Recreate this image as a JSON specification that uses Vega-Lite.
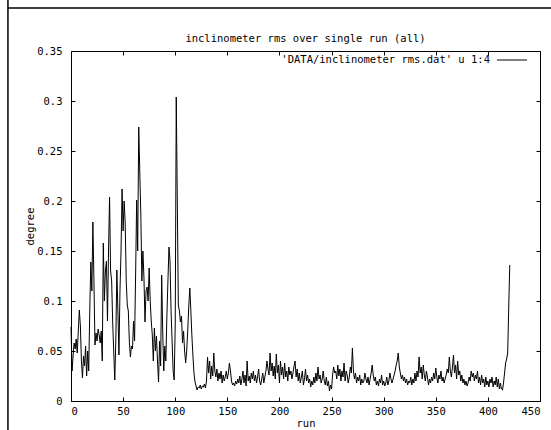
{
"$schema": "https://vega.github.io/schema/vega-lite/v6.json",
"width": 469, "height": 350,
"autosize": "none",
"padding": {"left": 71, "top": 51, "right": 11, "bottom": 29},
"background": "white",
"config": {
  "view": {"stroke": "black", "strokeWidth": 1},
  "font": "DejaVu Sans Mono",
  "axis": {"grid": false, "domain": false, "tickColor": "black", "tickSize": -4, "tickWidth": 1, "labelColor": "black", "labelFont": "DejaVu Sans Mono", "labelFontSize": 10.5, "titleFont": "DejaVu Sans Mono", "titleFontSize": 10.5, "titleFontWeight": "normal", "titleColor": "black"}
},
"title": {"text": "inclinometer rms over single run (all)", "font": "DejaVu Sans Mono", "fontSize": 10.5, "fontWeight": "normal", "color": "black", "baseline": "middle", "offset": -50},
"data": {"values": [
{"r":0,"v":0.074},{"r":1,"v":0.030},{"r":2,"v":0.045},{"r":3,"v":0.058},{"r":4,"v":0.052},{"r":5,"v":0.062},{"r":6,"v":0.048},{"r":7,"v":0.070},{"r":8,"v":0.091},{"r":9,"v":0.075},
{"r":10,"v":0.040},{"r":11,"v":0.023},{"r":12,"v":0.045},{"r":13,"v":0.035},{"r":14,"v":0.055},{"r":15,"v":0.025},{"r":16,"v":0.050},{"r":17,"v":0.030},{"r":18,"v":0.090},{"r":19,"v":0.139},
{"r":20,"v":0.110},{"r":21,"v":0.179},{"r":22,"v":0.120},{"r":23,"v":0.056},{"r":24,"v":0.068},{"r":25,"v":0.060},{"r":26,"v":0.072},{"r":27,"v":0.066},{"r":28,"v":0.058},{"r":29,"v":0.070},
{"r":30,"v":0.040},{"r":31,"v":0.158},{"r":32,"v":0.100},{"r":33,"v":0.130},{"r":34,"v":0.140},{"r":35,"v":0.080},{"r":36,"v":0.150},{"r":37,"v":0.204},{"r":38,"v":0.130},{"r":39,"v":0.120},
{"r":40,"v":0.078},{"r":41,"v":0.050},{"r":42,"v":0.021},{"r":43,"v":0.060},{"r":44,"v":0.131},{"r":45,"v":0.090},{"r":46,"v":0.046},{"r":47,"v":0.110},{"r":48,"v":0.150},{"r":49,"v":0.212},
{"r":50,"v":0.170},{"r":51,"v":0.200},{"r":52,"v":0.178},{"r":53,"v":0.120},{"r":54,"v":0.096},{"r":55,"v":0.090},{"r":56,"v":0.059},{"r":57,"v":0.044},{"r":58,"v":0.055},{"r":59,"v":0.052},
{"r":60,"v":0.080},{"r":61,"v":0.060},{"r":62,"v":0.126},{"r":63,"v":0.201},{"r":64,"v":0.150},{"r":65,"v":0.274},{"r":66,"v":0.229},{"r":67,"v":0.186},{"r":68,"v":0.120},{"r":69,"v":0.150},
{"r":70,"v":0.123},{"r":71,"v":0.079},{"r":72,"v":0.110},{"r":73,"v":0.114},{"r":74,"v":0.100},{"r":75,"v":0.133},{"r":76,"v":0.100},{"r":77,"v":0.080},{"r":78,"v":0.066},{"r":79,"v":0.040},
{"r":80,"v":0.073},{"r":81,"v":0.050},{"r":82,"v":0.065},{"r":83,"v":0.040},{"r":84,"v":0.019},{"r":85,"v":0.060},{"r":86,"v":0.035},{"r":87,"v":0.126},{"r":88,"v":0.070},{"r":89,"v":0.030},
{"r":90,"v":0.055},{"r":91,"v":0.040},{"r":92,"v":0.085},{"r":93,"v":0.120},{"r":94,"v":0.154},{"r":95,"v":0.140},{"r":96,"v":0.090},{"r":97,"v":0.060},{"r":98,"v":0.030},{"r":99,"v":0.021},
{"r":100,"v":0.076},{"r":101,"v":0.304},{"r":102,"v":0.200},{"r":103,"v":0.096},{"r":104,"v":0.090},{"r":105,"v":0.079},{"r":106,"v":0.085},{"r":107,"v":0.058},{"r":108,"v":0.070},{"r":109,"v":0.050},
{"r":110,"v":0.038},{"r":111,"v":0.050},{"r":112,"v":0.070},{"r":113,"v":0.095},{"r":114,"v":0.113},{"r":115,"v":0.090},{"r":116,"v":0.065},{"r":117,"v":0.045},{"r":118,"v":0.028},{"r":119,"v":0.019},
{"r":120,"v":0.015},{"r":121,"v":0.011},{"r":122,"v":0.014},{"r":123,"v":0.013},{"r":124,"v":0.016},{"r":125,"v":0.012},{"r":126,"v":0.015},{"r":127,"v":0.014},{"r":128,"v":0.017},{"r":129,"v":0.013},
{"r":130,"v":0.020},{"r":131,"v":0.044},{"r":132,"v":0.028},{"r":133,"v":0.040},{"r":134,"v":0.022},{"r":135,"v":0.035},{"r":136,"v":0.025},{"r":137,"v":0.048},{"r":138,"v":0.030},{"r":139,"v":0.024},
{"r":140,"v":0.032},{"r":141,"v":0.020},{"r":142,"v":0.028},{"r":143,"v":0.022},{"r":144,"v":0.030},{"r":145,"v":0.018},{"r":146,"v":0.026},{"r":147,"v":0.020},{"r":148,"v":0.024},{"r":149,"v":0.030},
{"r":150,"v":0.022},{"r":151,"v":0.028},{"r":152,"v":0.038},{"r":153,"v":0.030},{"r":154,"v":0.020},{"r":155,"v":0.016},{"r":156,"v":0.018},{"r":157,"v":0.015},{"r":158,"v":0.020},{"r":159,"v":0.017},
{"r":160,"v":0.022},{"r":161,"v":0.018},{"r":162,"v":0.025},{"r":163,"v":0.016},{"r":164,"v":0.022},{"r":165,"v":0.030},{"r":166,"v":0.018},{"r":167,"v":0.026},{"r":168,"v":0.015},{"r":169,"v":0.040},
{"r":170,"v":0.020},{"r":171,"v":0.025},{"r":172,"v":0.018},{"r":173,"v":0.028},{"r":174,"v":0.022},{"r":175,"v":0.030},{"r":176,"v":0.020},{"r":177,"v":0.026},{"r":178,"v":0.018},{"r":179,"v":0.024},
{"r":180,"v":0.032},{"r":181,"v":0.020},{"r":182,"v":0.016},{"r":183,"v":0.022},{"r":184,"v":0.028},{"r":185,"v":0.018},{"r":186,"v":0.024},{"r":187,"v":0.030},{"r":188,"v":0.040},{"r":189,"v":0.032},
{"r":190,"v":0.026},{"r":191,"v":0.048},{"r":192,"v":0.030},{"r":193,"v":0.038},{"r":194,"v":0.025},{"r":195,"v":0.035},{"r":196,"v":0.022},{"r":197,"v":0.047},{"r":198,"v":0.028},{"r":199,"v":0.036},
{"r":200,"v":0.018},{"r":201,"v":0.040},{"r":202,"v":0.026},{"r":203,"v":0.034},{"r":204,"v":0.022},{"r":205,"v":0.038},{"r":206,"v":0.024},{"r":207,"v":0.030},{"r":208,"v":0.020},{"r":209,"v":0.034},
{"r":210,"v":0.026},{"r":211,"v":0.030},{"r":212,"v":0.022},{"r":213,"v":0.028},{"r":214,"v":0.035},{"r":215,"v":0.040},{"r":216,"v":0.024},{"r":217,"v":0.032},{"r":218,"v":0.020},{"r":219,"v":0.028},
{"r":220,"v":0.018},{"r":221,"v":0.024},{"r":222,"v":0.030},{"r":223,"v":0.016},{"r":224,"v":0.022},{"r":225,"v":0.032},{"r":226,"v":0.020},{"r":227,"v":0.026},{"r":228,"v":0.018},{"r":229,"v":0.022},
{"r":230,"v":0.014},{"r":231,"v":0.020},{"r":232,"v":0.016},{"r":233,"v":0.024},{"r":234,"v":0.018},{"r":235,"v":0.028},{"r":236,"v":0.020},{"r":237,"v":0.034},{"r":238,"v":0.022},{"r":239,"v":0.026},
{"r":240,"v":0.018},{"r":241,"v":0.022},{"r":242,"v":0.030},{"r":243,"v":0.020},{"r":244,"v":0.016},{"r":245,"v":0.024},{"r":246,"v":0.015},{"r":247,"v":0.020},{"r":248,"v":0.010},{"r":249,"v":0.016},
{"r":250,"v":0.012},{"r":251,"v":0.026},{"r":252,"v":0.034},{"r":253,"v":0.028},{"r":254,"v":0.030},{"r":255,"v":0.022},{"r":256,"v":0.036},{"r":257,"v":0.025},{"r":258,"v":0.032},{"r":259,"v":0.020},
{"r":260,"v":0.030},{"r":261,"v":0.024},{"r":262,"v":0.038},{"r":263,"v":0.020},{"r":264,"v":0.030},{"r":265,"v":0.026},{"r":266,"v":0.018},{"r":267,"v":0.024},{"r":268,"v":0.034},{"r":269,"v":0.028},
{"r":270,"v":0.053},{"r":271,"v":0.030},{"r":272,"v":0.022},{"r":273,"v":0.028},{"r":274,"v":0.018},{"r":275,"v":0.024},{"r":276,"v":0.020},{"r":277,"v":0.026},{"r":278,"v":0.016},{"r":279,"v":0.022},
{"r":280,"v":0.018},{"r":281,"v":0.020},{"r":282,"v":0.028},{"r":283,"v":0.022},{"r":284,"v":0.018},{"r":285,"v":0.024},{"r":286,"v":0.016},{"r":287,"v":0.022},{"r":288,"v":0.028},{"r":289,"v":0.036},
{"r":290,"v":0.026},{"r":291,"v":0.020},{"r":292,"v":0.024},{"r":293,"v":0.016},{"r":294,"v":0.020},{"r":295,"v":0.015},{"r":296,"v":0.022},{"r":297,"v":0.018},{"r":298,"v":0.026},{"r":299,"v":0.016},
{"r":300,"v":0.020},{"r":301,"v":0.015},{"r":302,"v":0.018},{"r":303,"v":0.024},{"r":304,"v":0.016},{"r":305,"v":0.020},{"r":306,"v":0.028},{"r":307,"v":0.022},{"r":308,"v":0.018},{"r":309,"v":0.022},
{"r":310,"v":0.026},{"r":311,"v":0.030},{"r":312,"v":0.036},{"r":313,"v":0.040},{"r":314,"v":0.048},{"r":315,"v":0.034},{"r":316,"v":0.028},{"r":317,"v":0.022},{"r":318,"v":0.026},{"r":319,"v":0.020},
{"r":320,"v":0.024},{"r":321,"v":0.018},{"r":322,"v":0.022},{"r":323,"v":0.016},{"r":324,"v":0.020},{"r":325,"v":0.018},{"r":326,"v":0.024},{"r":327,"v":0.016},{"r":328,"v":0.022},{"r":329,"v":0.018},
{"r":330,"v":0.028},{"r":331,"v":0.020},{"r":332,"v":0.030},{"r":333,"v":0.024},{"r":334,"v":0.044},{"r":335,"v":0.028},{"r":336,"v":0.034},{"r":337,"v":0.022},{"r":338,"v":0.036},{"r":339,"v":0.026},
{"r":340,"v":0.020},{"r":341,"v":0.030},{"r":342,"v":0.024},{"r":343,"v":0.016},{"r":344,"v":0.022},{"r":345,"v":0.018},{"r":346,"v":0.024},{"r":347,"v":0.020},{"r":348,"v":0.028},{"r":349,"v":0.022},
{"r":350,"v":0.033},{"r":351,"v":0.024},{"r":352,"v":0.018},{"r":353,"v":0.026},{"r":354,"v":0.022},{"r":355,"v":0.030},{"r":356,"v":0.020},{"r":357,"v":0.024},{"r":358,"v":0.018},{"r":359,"v":0.022},
{"r":360,"v":0.026},{"r":361,"v":0.032},{"r":362,"v":0.028},{"r":363,"v":0.044},{"r":364,"v":0.030},{"r":365,"v":0.024},{"r":366,"v":0.034},{"r":367,"v":0.046},{"r":368,"v":0.028},{"r":369,"v":0.036},
{"r":370,"v":0.022},{"r":371,"v":0.040},{"r":372,"v":0.026},{"r":373,"v":0.030},{"r":374,"v":0.020},{"r":375,"v":0.026},{"r":376,"v":0.018},{"r":377,"v":0.022},{"r":378,"v":0.016},{"r":379,"v":0.020},
{"r":380,"v":0.015},{"r":381,"v":0.018},{"r":382,"v":0.024},{"r":383,"v":0.020},{"r":384,"v":0.030},{"r":385,"v":0.024},{"r":386,"v":0.028},{"r":387,"v":0.020},{"r":388,"v":0.026},{"r":389,"v":0.022},
{"r":390,"v":0.030},{"r":391,"v":0.018},{"r":392,"v":0.024},{"r":393,"v":0.016},{"r":394,"v":0.026},{"r":395,"v":0.018},{"r":396,"v":0.022},{"r":397,"v":0.014},{"r":398,"v":0.024},{"r":399,"v":0.016},
{"r":400,"v":0.020},{"r":401,"v":0.014},{"r":402,"v":0.022},{"r":403,"v":0.018},{"r":404,"v":0.024},{"r":405,"v":0.014},{"r":406,"v":0.020},{"r":407,"v":0.016},{"r":408,"v":0.024},{"r":409,"v":0.014},
{"r":410,"v":0.022},{"r":411,"v":0.012},{"r":412,"v":0.018},{"r":413,"v":0.012},{"r":414,"v":0.011},{"r":415,"v":0.018},{"r":416,"v":0.028},{"r":417,"v":0.038},{"r":418,"v":0.042},{"r":419,"v":0.048},
{"r":420,"v":0.094},{"r":421,"v":0.136}
]},
"resolve": {"axis": {"x": "independent", "y": "independent"}},
"layer": [
  {
    "mark": {"type": "line", "color": "black", "strokeWidth": 1},
    "encoding": {
      "x": {"field": "r", "type": "quantitative", "scale": {"domain": [0, 450], "nice": false, "zero": false},
            "axis": {"orient": "bottom", "values": [0,50,100,150,200,250,300,350,400,450], "format": "d", "labelPadding": 9, "title": "run", "titleY": 22, "titleBaseline": "middle"}},
      "y": {"field": "v", "type": "quantitative", "scale": {"domain": [0, 0.35], "nice": false, "zero": false},
            "axis": {"orient": "left", "values": [0,0.05,0.1,0.15,0.2,0.25,0.3,0.35], "format": "~g", "labelPadding": 13, "title": "degree", "titleX": -41, "titleY": 175, "titleAngle": -90, "titleBaseline": "middle", "titleAlign": "center"}}
    }
  },
  {
    "data": {"values": [{"k": "legend"}]},
    "mark": {"type": "rule", "color": "black", "strokeWidth": 1},
    "encoding": {
      "x": {"datum": 408.7, "type": "quantitative", "scale": {"domain": [0, 450], "nice": false, "zero": false},
            "axis": {"orient": "top", "values": [0,50,100,150,200,250,300,350,400,450], "labels": false, "title": null}},
      "x2": {"datum": 437.5},
      "y": {"datum": 0.341, "type": "quantitative", "scale": {"domain": [0, 0.35], "nice": false, "zero": false},
            "axis": {"orient": "right", "values": [0,0.05,0.1,0.15,0.2,0.25,0.3,0.35], "labels": false, "title": null}}
    }
  },
  {
    "data": {"values": [{"k": "legend"}]},
    "mark": {"type": "text", "color": "black", "font": "DejaVu Sans Mono", "fontSize": 10.5, "align": "right", "baseline": "middle"},
    "encoding": {
      "x": {"datum": 402, "type": "quantitative", "scale": {"domain": [0, 450], "nice": false, "zero": false}, "axis": null},
      "y": {"datum": 0.341, "type": "quantitative", "scale": {"domain": [0, 0.35], "nice": false, "zero": false}, "axis": null},
      "text": {"value": "'DATA/inclinometer rms.dat' u 1:4"}
    }
  },
  {
    "data": {"values": [{"k": "frame"}]},
    "mark": {"type": "rule", "color": "black", "strokeWidth": 1.5, "clip": false},
    "encoding": {
      "x": {"datum": -60.5, "type": "quantitative", "scale": {"domain": [0, 450], "nice": false, "zero": false}, "axis": null},
      "y": {"datum": 0.401, "type": "quantitative", "scale": {"domain": [0, 0.35], "nice": false, "zero": false}, "axis": null},
      "y2": {"datum": -0.03}
    }
  },
  {
    "data": {"values": [{"k": "frame"}]},
    "mark": {"type": "rule", "color": "black", "strokeWidth": 1.5, "clip": false},
    "encoding": {
      "x": {"datum": -60.5, "type": "quantitative", "scale": {"domain": [0, 450], "nice": false, "zero": false}, "axis": null},
      "x2": {"datum": 461},
      "y": {"datum": 0.393, "type": "quantitative", "scale": {"domain": [0, 0.35], "nice": false, "zero": false}, "axis": null}
    }
  }
]
}
